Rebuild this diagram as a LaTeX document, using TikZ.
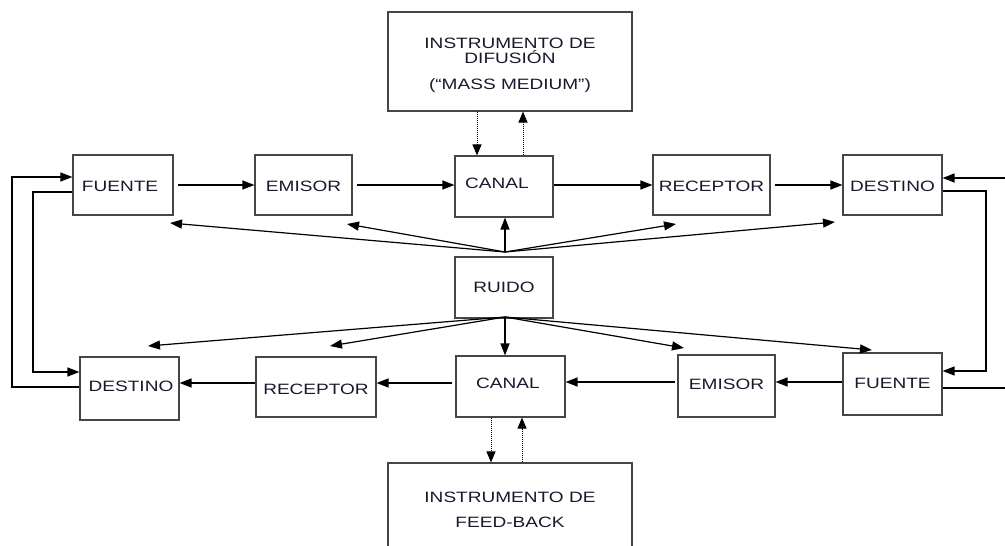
\documentclass[tikz,border=0pt]{standalone}
\usepackage{fontspec}
\setmainfont{Liberation Sans}[FakeStretch=1.27]
\usetikzlibrary{arrows.meta,calc}
\definecolor{txtc}{RGB}{25,25,45}
\definecolor{boxc}{RGB}{70,70,70}
\begin{document}
\begin{tikzpicture}[x=1pt,y=-1pt,
  box/.style={draw=boxc,line width=1.1pt,inner sep=0pt,fill=white},
  lbl/.style={text=txtc,inner sep=0pt,font=\fontsize{15}{15}\selectfont,align=center},
  arr/.style={draw=black,line width=1.2pt,-{Triangle[length=12pt,width=9pt]}},
  dot/.style={draw=black,line width=1pt,densely dotted,-{Triangle[length=11pt,width=9pt]}},
  ln/.style={draw=black,line width=1.2pt}]
\useasboundingbox (0,0) rectangle (1005,546);
\clip (0,0) rectangle (1005,546);
% top row
\node[box,minimum width=100pt,minimum height=60pt] (F1) at (123,185) {};
\node[lbl] (tF1) at (120,186) {FUENTE};
\node[box,minimum width=97pt,minimum height=60pt] (E1) at (303.5,185) {};
\node[lbl] (tE1) at (303.5,186) {EMISOR};
\node[box,minimum width=98pt,minimum height=61pt] (C1) at (504,186.5) {};
\node[lbl] (tC1) at (497,183) {CANAL};
\node[box,minimum width=117pt,minimum height=60pt] (R1) at (711.5,185) {};
\node[lbl] (tR1) at (711.5,186) {RECEPTOR};
\node[box,minimum width=99pt,minimum height=60pt] (D1) at (892.5,185) {};
\node[lbl] (tD1) at (892.5,186) {DESTINO};
% difusion
\node[box,minimum width=244pt,minimum height=99pt] (DIF) at (510,61.5) {};
\node[lbl] (tDIF1) at (510,50.5) {INSTRUMENTO DE\\DIFUSIÓN};
\node[lbl] (tDIF2) at (510,86) {(“MASS MEDIUM”)};
% ruido
\node[box,minimum width=98pt,minimum height=61pt] (RU) at (504,287.5) {};
\node[lbl] (tRU) at (504,287) {RUIDO};
% bottom row
\node[box,minimum width=99pt,minimum height=63pt] (D2) at (129.5,388.5) {};
\node[lbl] (tD2) at (131,386) {DESTINO};
\node[box,minimum width=120pt,minimum height=60pt] (R2) at (316,387) {};
\node[lbl] (tR2) at (316,389) {RECEPTOR};
\node[box,minimum width=109pt,minimum height=61pt] (C2) at (510.5,386.5) {};
\node[lbl] (tC2) at (508,383) {CANAL};
\node[box,minimum width=97pt,minimum height=62pt] (E2) at (726.5,386) {};
\node[lbl] (tE2) at (726.5,384) {EMISOR};
\node[box,minimum width=99pt,minimum height=62pt] (F2) at (892.5,384) {};
\node[lbl] (tF2) at (892.5,383) {FUENTE};
% feedback
\node[box,minimum width=244pt,minimum height=110pt] (FB) at (510,518) {};
\node[lbl] (tFB) at (510,510) {INSTRUMENTO DE\\[10pt]FEED-BACK};
% main flow top
\draw[arr] ([xshift=4pt]F1.east) -- (F1.east -| E1.west);
\draw[arr] ([xshift=4pt]E1.east) -- (E1.east -| C1.west);
\draw[arr] (C1.east |- 0,185) -- (R1.west);
\draw[arr] ([xshift=4pt]R1.east) -- (D1.west);
% main flow bottom
\draw[arr] (F2.west |- 0,382) -- (E2.east |- 0,382);
\draw[arr] ([xshift=-2pt]E2.west |- 0,382) -- (C2.east |- 0,382);
\draw[arr] ([xshift=-3pt]C2.west |- 0,383) -- (R2.east |- 0,383);
\draw[arr] (R2.west |- 0,383) -- (D2.east |- 0,383);
% dotted links
\draw[dot] (DIF.south -| 477,0) -- (C1.north -| 477,0);
\draw[dot] (C1.north -| 523,0) -- (DIF.south -| 523,0);
\draw[dot] (C2.south -| 491,0) -- (FB.north -| 491,0);
\draw[dot] (FB.north -| 522,0) -- (C2.south -| 522,0);
% noise arrows
\coordinate (nt) at (505,252);
\coordinate (nb) at (505,317);
\coordinate (t1) at (170,223);
\coordinate (t2) at (347,224);
\coordinate (t4) at (676,224);
\coordinate (t5) at (835,222);
\coordinate (b1) at (148,346);
\coordinate (b2) at (330,346);
\coordinate (b4) at (684,348);
\coordinate (b5) at (872,350);
\draw[arr] (nt) -- (t1);
\draw[arr] (nt) -- (t2);
\draw[arr] (nt) -- (nt |- C1.south);
\draw[arr] (nt) -- (t4);
\draw[arr] (nt) -- (t5);
\draw[arr] (nb) -- (b1);
\draw[arr] (nb) -- (b2);
\draw[arr] (nb) -- (nb |- C2.north);
\draw[arr] (nb) -- (b4);
\draw[arr] (nb) -- (b5);
% left loops
\draw[arr] (D2.west |- 0,387) -| (12,177) -- (F1.west |- 0,177);
\draw[arr] (F1.west |- 0,192) -| (33,372) -- (D2.west |- 0,372);
% right loops
\coordinate (redge) at (1005,178);
\draw[arr] (redge) -- (D1.east |- redge);
\draw[arr] (D1.east |- 0,191) -| (986,371) -- (F2.east |- 0,371);
\coordinate (redge2) at (1005,388);
\draw[ln] (F2.east |- redge2) -- (redge2);
\end{tikzpicture}
\end{document}
